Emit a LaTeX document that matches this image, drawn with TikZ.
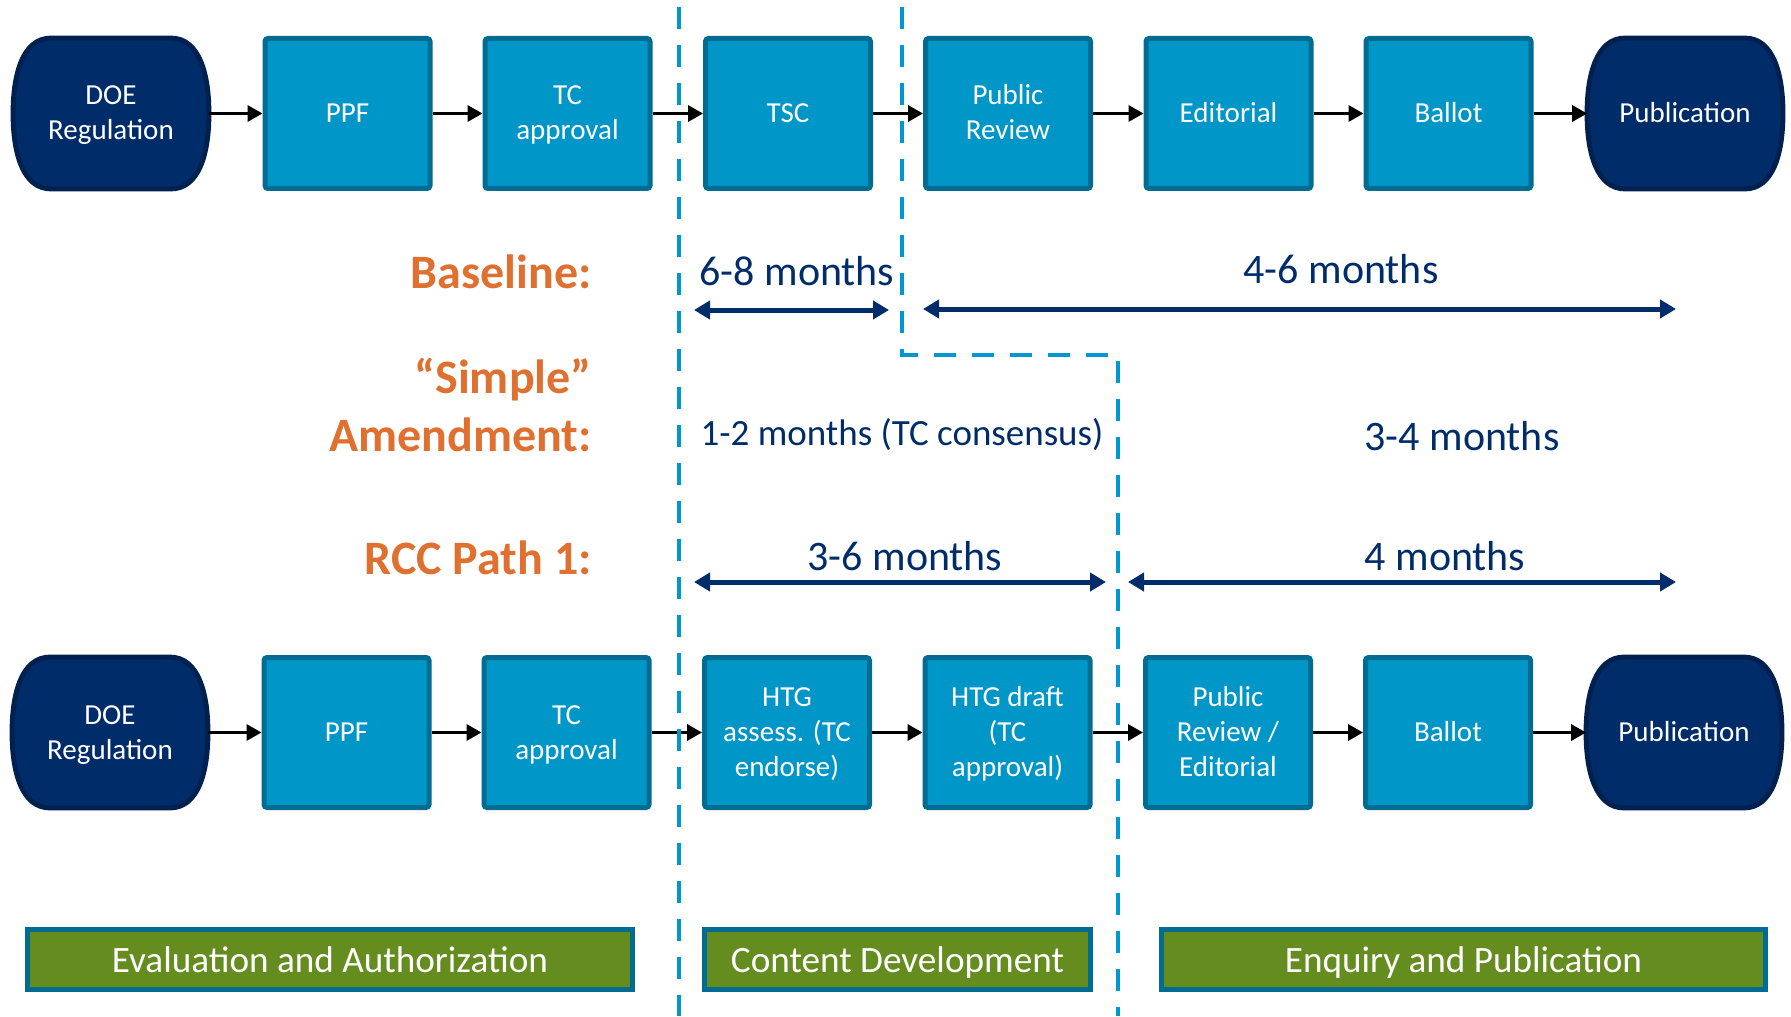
\documentclass[tikz,border=0pt]{standalone}
\usepackage{fontspec}
\setmainfont{Carlito}
\usetikzlibrary{arrows.meta,backgrounds}
\definecolor{boxfill}{RGB}{0,150,200}
\definecolor{boxline}{RGB}{0,108,145}
\definecolor{navyfill}{RGB}{0,45,105}
\definecolor{navyline}{RGB}{0,33,80}
\definecolor{barfill}{RGB}{100,140,30}
\definecolor{orangetxt}{RGB}{224,112,48}
\definecolor{dashblue}{RGB}{0,150,210}
\definecolor{monthtxt}{RGB}{0,45,105}
\newcommand\bs{\rule[-4.25pt]{0pt}{17.5pt}}
\newcommand\barstrut{\rule[-4.75pt]{0pt}{22pt}}
\newcommand\termshape[1]{%
  \path[termpath] ([xshift=19pt]#1.north west) -- ([xshift=-19pt]#1.north east)
   .. controls ([xshift=-5pt]#1.north east) and ([yshift=-17.5pt]#1.north east) .. (#1.east)
   .. controls ([yshift=17.5pt]#1.south east) and ([xshift=-5pt]#1.south east) .. ([xshift=-19pt]#1.south east)
   -- ([xshift=19pt]#1.south west)
   .. controls ([xshift=5pt]#1.south west) and ([yshift=17.5pt]#1.south west) .. (#1.west)
   .. controls ([yshift=-17.5pt]#1.north west) and ([xshift=5pt]#1.north west) .. cycle;}
\begin{document}
\begin{tikzpicture}[x=0.5pt,y=-0.5pt,
  boxtext/.style={text=white, align=center, inner sep=0pt, font=\fontsize{14.5}{17.5}\selectfont},
  stepbox/.style={boxtext, draw=boxline, fill=boxfill, line width=2.5pt, rounded corners=1.5pt, minimum width=82.5pt, minimum height=75pt},
  terminal/.style={boxtext, minimum width=97.5pt, minimum height=75pt},
  termpath/.style={draw=navyline, fill=navyfill, line width=2.5pt},
  phase/.style={draw=boxline, fill=barfill, line width=2.5pt, minimum height=30pt, inner sep=0pt, text=white,
    font=\fontsize{18.6}{22}\selectfont},
  flow/.style={-{Triangle[length=7.5pt,width=8pt]}, line width=1.7pt, black},
  span/.style={{Triangle[length=8pt,width=9pt]}-{Triangle[length=8pt,width=9pt]}, line width=2.5pt, draw=monthtxt},
  sep/.style={draw=dashblue, line width=2.25pt, dash pattern=on 11pt off 8pt},
  rowlabel/.style={text=orangetxt, font=\fontsize{24}{28}\selectfont\bfseries, anchor=base east, inner sep=0pt},
  months/.style={text=monthtxt, font=\fontsize{21}{25}\selectfont, anchor=base, inner sep=0pt},
]
\useasboundingbox (0,0) rectangle (1791,1016);

% ---- top row
\node[terminal] (doeA) at (111,113.5) {\bs DOE\\Regulation\bs};
\node[stepbox] (ppfA) at (347.5,113.5) {\bs PPF\bs};
\node[stepbox] (tcA) at (567.5,113.5) {\bs TC\\approval\bs};
\node[stepbox] (tscA) at (788,113.5) {\bs TSC\bs};
\node[stepbox] (prA) at (1008,113.5) {\bs Public\\Review\bs};
\node[stepbox] (edA) at (1228.5,113.5) {\bs Editorial\bs};
\node[stepbox] (balA) at (1448.5,113.5) {\bs Ballot\bs};
\node[terminal] (pubA) at (1685,113.5) {\bs Publication\bs};

% ---- bottom row
\node[terminal] (doeB) at (110,732.5) {\bs DOE\\Regulation\bs};
\node[stepbox] (ppfB) at (346.5,732.5) {\bs PPF\bs};
\node[stepbox] (tcB) at (566.5,732.5) {\bs TC\\approval\bs};
\node[stepbox] (htgaB) at (787,732.5) {\bs HTG\\assess. (TC\\endorse)\bs};
\node[stepbox] (htgdB) at (1007.5,732.5) {\bs HTG draft\\(TC\\approval)\bs};
\node[stepbox] (prB) at (1228,732.5) {\bs Public\\Review /\\Editorial\bs};
\node[stepbox] (balB) at (1448,732.5) {\bs Ballot\bs};
\node[terminal] (pubB) at (1684,732.5) {\bs Publication\bs};

\begin{scope}[on background layer]
\termshape{doeA}
\termshape{pubA}
\termshape{doeB}
\termshape{pubB}
\end{scope}

% ---- flow arrows
\draw[flow] (doeA) -- (ppfA);
\draw[flow] (ppfA) -- (tcA);
\draw[flow] (tcA) -- (tscA);
\draw[flow] (tscA) -- (prA);
\draw[flow] (prA) -- (edA);
\draw[flow] (edA) -- (balA);
\draw[flow] (balA) -- (pubA);
\draw[flow] (doeB) -- (ppfB);
\draw[flow] (ppfB) -- (tcB);
\draw[flow] (tcB) -- (htgaB);
\draw[flow] (htgaB) -- (htgdB);
\draw[flow] (htgdB) -- (prB);
\draw[flow] (prB) -- (balB);
\draw[flow] (balB) -- (pubB);

% ---- phase bars
\node[phase, minimum width=302.5pt] (evalbar) at (330,959.5) {\barstrut Evaluation and Authorization};
\node[phase, minimum width=193pt] (contbar) at (897.5,959.5) {\barstrut Content Development};
\node[phase, minimum width=302pt] (enqbar) at (1463.5,959.5) {\barstrut Enquiry and Publication};

% ---- dashed separators
\coordinate (s1top) at (679,7);
\coordinate (s1bot) at (679,1016);
\coordinate (s2top) at (902,7);
\coordinate (s2knee) at (902,355);
\coordinate (s2turn) at (1118,355);
\coordinate (s2bot) at (1118,1016);
\draw[sep] (s1top) -- (s1bot);
\draw[sep] (s2top) -- (s2knee) -- (s2turn) -- (s2bot);

% ---- row labels
\node[rowlabel] (lbase) at (592,288) {Baseline:};
\node[rowlabel] (lsimple) at (592,393) {“Simple”};
\node[rowlabel] (lamend) at (592,451) {Amendment:};
\node[rowlabel] (lrcc) at (592,574) {RCC Path 1:};

% ---- durations
\coordinate (a1l) at (694,310);
\coordinate (a1r) at (889,310);
\coordinate (a2l) at (923,309);
\coordinate (a2r) at (1676,309);
\coordinate (a3l) at (694,582);
\coordinate (a3r) at (1106,582);
\coordinate (a4l) at (1128,582);
\coordinate (a4r) at (1676,582);
\draw[span] (a1l) -- (a1r);
\draw[span] (a2l) -- (a2r);
\draw[span] (a3l) -- (a3r);
\draw[span] (a4l) -- (a4r);

\node[months] (m68) at (797,285) {6-8 months};
\node[months] (m46) at (1341,283) {4-6 months};
\node[months, font=\fontsize{18.5}{22}\selectfont] (m12) at (902,445) {1-2 months (TC consensus)};
\node[months] (m34) at (1462,450) {3-4 months};
\node[months] (m36) at (905,570) {3-6 months};
\node[months] (m4) at (1445,570) {4 months};
\end{tikzpicture}
\end{document}
